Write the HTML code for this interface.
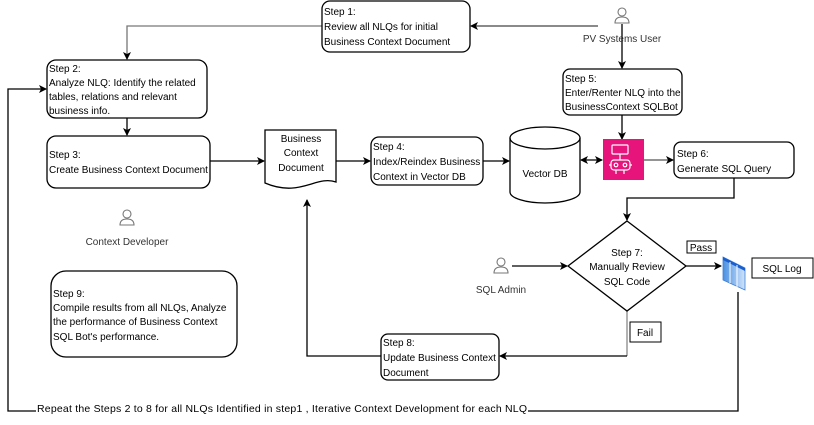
<!DOCTYPE html>
<html><head><meta charset="utf-8"><style>
html,body{margin:0;padding:0;background:#fff;}
svg text{font-family:"Liberation Sans",sans-serif;font-size:10px;fill:#000;}
</style></head><body>
<svg width="814" height="420" viewBox="0 0 814 420" xmlns="http://www.w3.org/2000/svg">
<defs>
<marker id="a" markerWidth="8" markerHeight="8" refX="7" refY="4" orient="auto" markerUnits="userSpaceOnUse"><path d="M0,0 L8,4 L0,8 L2,4 Z" fill="#000"/></marker>
<marker id="s" markerWidth="8" markerHeight="8" refX="1" refY="4" orient="auto" markerUnits="userSpaceOnUse"><path d="M8,0 L0,4 L8,8 L6,4 Z" fill="#000"/></marker>
<linearGradient id="g" x1="0" x2="1"><stop offset="0" stop-color="#4a90e2"/><stop offset="1" stop-color="#cfe3fb"/></linearGradient>
</defs>
<g fill="none" stroke="#000" stroke-width="1.3">
<path d="M322,26 H127 V59" stroke="#777" marker-end="url(#a)"/>
<path d="M598,26 H471" marker-end="url(#a)" stroke="#444"/>
<path d="M622,24 V68" marker-end="url(#a)"/>
<path d="M622,115 V139" marker-end="url(#a)"/>
<path d="M127,118 V135" marker-end="url(#a)"/>
<path d="M210,161 H264" marker-end="url(#a)"/>
<path d="M336,161 H370" marker-end="url(#a)"/>
<path d="M483,161 H509" marker-end="url(#a)"/>
<path d="M581,160 H602" marker-end="url(#a)" marker-start="url(#s)"/>
<path d="M644,160 H673" stroke="#555" marker-end="url(#a)"/>
<path d="M734,178 V198 H627 V220" marker-end="url(#a)"/>
<path d="M512,266 H567" marker-end="url(#a)"/>
<path d="M686,266 H721" marker-end="url(#a)"/>
<path d="M627,311 V356" stroke="#888"/>
<path d="M627,356 H500" marker-end="url(#a)"/>
<path d="M381,356 H307 V200" marker-end="url(#a)"/>
<path d="M738,292 V411 H8 V89 H46" marker-end="url(#a)"/>
<rect x="322" y="1" width="148" height="51" rx="8"/>
<rect x="47" y="60" width="160" height="58" rx="9"/>
<rect x="47" y="136" width="163" height="52" rx="9"/>
<path d="M265,130 H336 V182 C316,175 300,198 265,183 Z"/>
<rect x="371" y="137" width="112" height="48" rx="8"/>
<path d="M510,138 V192 A35,11 0 0 0 580,192 V138"/>
<ellipse cx="545" cy="138" rx="35" ry="11"/>
<rect x="563" y="69" width="119" height="46" rx="7"/>
<rect x="674" y="142" width="120" height="36" rx="7"/>
<path d="M627,221 L686,266 L627,311 L568,266 Z"/>
<rect x="381" y="334" width="118" height="46" rx="7"/>
<rect x="51" y="271" width="186" height="86" rx="15"/>
<rect x="687" y="241" width="29" height="12" stroke-width="1"/>
<rect x="752" y="258" width="61" height="20" stroke-width="1"/>
<rect x="630" y="322" width="31" height="20" stroke-width="1"/>
</g>
<rect x="36" y="402" width="492" height="12" fill="#fff"/>
<rect x="603" y="139" width="41" height="41" fill="#e7157b"/>
<g fill="none" stroke="#fff" stroke-width="1.2">
<rect x="612" y="145" width="16" height="9" rx="1"/>
<rect x="611" y="160" width="19" height="10" rx="3"/>
<circle cx="616" cy="165" r="1.8"/><circle cx="625" cy="165" r="1.8"/>
<path d="M620,154 V160 M616,170 V174 M624,170 V174 M609,165 H611 M630,165 H632"/>
</g>
<polygon points="723,257 745,268 745,290 723,280" fill="url(#g)" stroke="#3d7fd8" stroke-width="0.8"/>
<polygon points="723,257 745,268 745,271 723,260" fill="#1a5fd0"/>
<path d="M730,262 V283 M737,265 V287" stroke="#fff" stroke-width="1"/>
<g fill="none" stroke="#777" stroke-width="1.1">
<circle cx="622" cy="12" r="4"/><path d="M615,23 Q615,17 622,17 Q629,17 629,23 Z"/>
<circle cx="127" cy="214" r="4"/><path d="M120,225 Q120,219 127,219 Q134,219 134,225 Z"/>
<circle cx="501" cy="262" r="4"/><path d="M494,273 Q494,267 501,267 Q508,267 508,273 Z"/>
</g>
<text x="324" y="15">Step 1:</text>
<text x="324" y="30">Review all NLQs for initial</text>
<text x="324" y="45">Business Context Document</text>
<text x="49" y="72">Step 2:</text>
<text x="49" y="86">Analyze NLQ: Identify the related</text>
<text x="49" y="100">tables, relations and relevant</text>
<text x="49" y="114">business info.</text>
<text x="49" y="158">Step 3:</text>
<text x="49" y="173">Create Business Context Document</text>
<text x="301" y="142" text-anchor="middle">Business</text>
<text x="301" y="156" text-anchor="middle">Context</text>
<text x="301" y="171" text-anchor="middle">Document</text>
<text x="373" y="150">Step 4:</text>
<text x="373" y="165">Index/Reindex Business</text>
<text x="373" y="180">Context in Vector DB</text>
<text x="545" y="177" text-anchor="middle">Vector DB</text>
<text x="565" y="82">Step 5:</text>
<text x="565" y="96">Enter/Renter NLQ into the</text>
<text x="565" y="110">BusinessContext SQLBot</text>
<text x="677" y="157">Step 6:</text>
<text x="677" y="172">Generate SQL Query</text>
<text x="627" y="256" text-anchor="middle">Step 7:</text>
<text x="627" y="270" text-anchor="middle">Manually Review</text>
<text x="627" y="285" text-anchor="middle">SQL Code</text>
<text x="701" y="251" text-anchor="middle">Pass</text>
<text x="782" y="272" text-anchor="middle">SQL Log</text>
<text x="645" y="336" text-anchor="middle">Fail</text>
<text x="383" y="346">Step 8:</text>
<text x="383" y="361">Update Business Context</text>
<text x="383" y="376">Document</text>
<text x="53" y="297">Step 9:</text>
<text x="53" y="311">Compile results from all NLQs, Analyze</text>
<text x="53" y="325">the performance of Business Context</text>
<text x="53" y="340">SQL Bot's performance.</text>
<text x="622" y="42" text-anchor="middle" style="fill:#333">PV Systems User</text>
<text x="127" y="245" text-anchor="middle" style="fill:#333">Context Developer</text>
<text x="501" y="293" text-anchor="middle" style="fill:#333">SQL Admin</text>
<text x="37" y="412" style="font-size:10.5px" textLength="490" lengthAdjust="spacing">Repeat the Steps 2 to 8 for all NLQs Identified in step1 , Iterative Context Development for each NLQ</text>
</svg>
</body></html>
